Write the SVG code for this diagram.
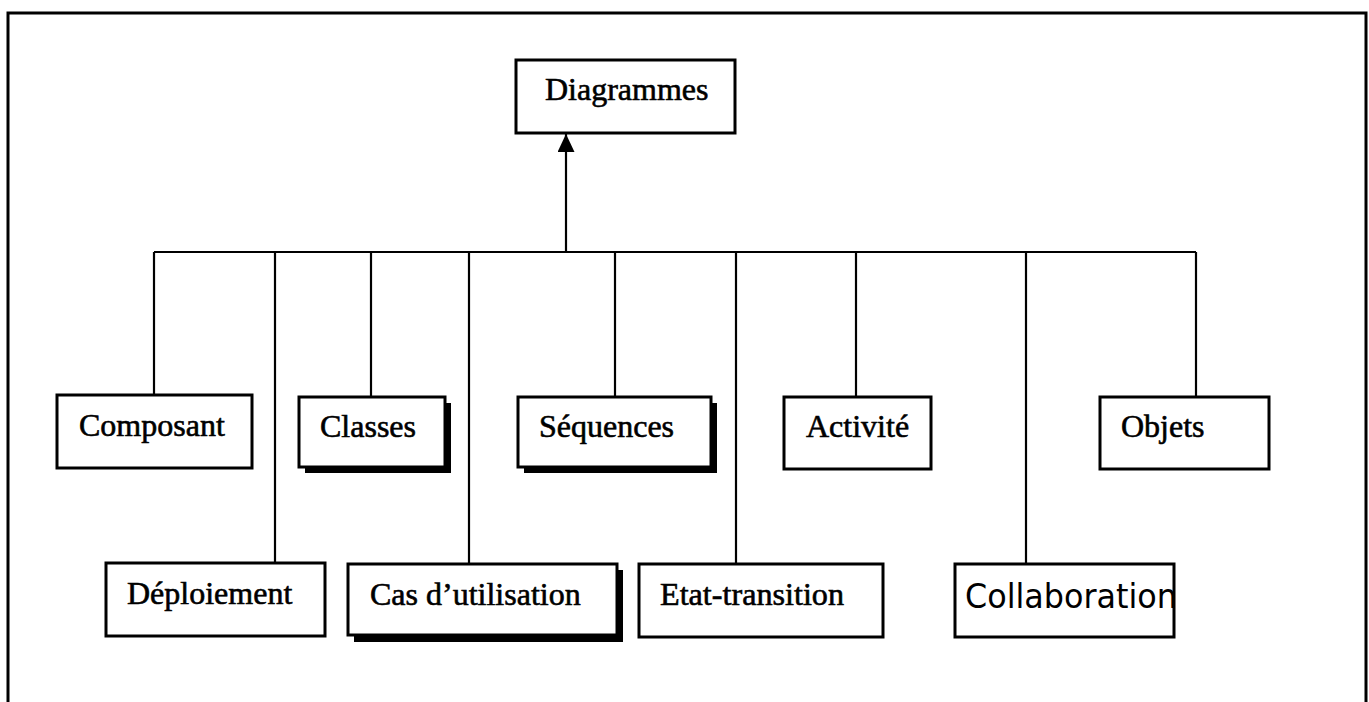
<svg xmlns="http://www.w3.org/2000/svg" width="1369" height="702" viewBox="0 0 1369 702">
  <defs>
    <style>
      .frame { fill: none; stroke: #000; stroke-width: 3; }
      .box { fill: #fff; stroke: #000; stroke-width: 3; }
      .shadow { fill: #000; }
      .link { fill: none; stroke: #000; stroke-width: 2.2; }
      .label { font-family: "Liberation Serif", "Times New Roman", serif; font-size: 32px; fill: #000; stroke: #000; stroke-width: 0.6; }
      .hand { font-family: "DejaVu Sans", sans-serif; font-size: 33px; font-weight: normal; fill: #000; }
    </style>
    <marker id="arrow" viewBox="0 0 18 17" refX="18" refY="8.5" markerWidth="18" markerHeight="17" markerUnits="userSpaceOnUse" orient="auto">
      <path d="M0,0 L18,8.5 L0,17 Z" fill="#000"/>
    </marker>
  </defs>

  <rect width="1369" height="702" fill="#fff"/>

  <!-- outer frame (bottom edge runs off the page) -->
  <rect class="frame" x="8" y="13" width="1358" height="700"/>

  <!-- connectors -->
  <g id="connectors">
    <line class="link" x1="566" y1="252" x2="566" y2="134" marker-end="url(#arrow)"/>
    <line class="link" x1="154" y1="252" x2="1196" y2="252"/>
    <line class="link" x1="154" y1="252" x2="154" y2="395"/>
    <line class="link" x1="275" y1="252" x2="275" y2="563"/>
    <line class="link" x1="371" y1="252" x2="371" y2="397"/>
    <line class="link" x1="469" y1="252" x2="469" y2="564"/>
    <line class="link" x1="615" y1="252" x2="615" y2="397"/>
    <line class="link" x1="736" y1="252" x2="736" y2="564"/>
    <line class="link" x1="856" y1="252" x2="856" y2="397"/>
    <line class="link" x1="1026" y1="252" x2="1026" y2="564"/>
    <line class="link" x1="1196" y1="252" x2="1196" y2="397"/>
  </g>

  <g id="diagrammes">
    <rect class="box" x="516" y="60" width="219" height="73"/>
    <text class="label" x="545" y="100">Diagrammes</text>
  </g>

  <g id="composant">
    <rect class="box" x="57" y="395" width="195" height="73"/>
    <text class="label" x="79" y="436">Composant</text>
  </g>

  <g id="classes">
    <rect class="shadow" x="305" y="403" width="146" height="70"/>
    <rect class="box" x="299" y="397" width="146" height="70"/>
    <text class="label" x="320" y="437">Classes</text>
  </g>

  <g id="sequences">
    <rect class="shadow" x="524" y="403" width="193" height="70"/>
    <rect class="box" x="518" y="397" width="193" height="70"/>
    <text class="label" x="539" y="437">Séquences</text>
  </g>

  <g id="activite">
    <rect class="box" x="784" y="397" width="147" height="72"/>
    <text class="label" x="806" y="437">Activité</text>
  </g>

  <g id="objets">
    <rect class="box" x="1100" y="397" width="169" height="72"/>
    <text class="label" x="1121" y="437">Objets</text>
  </g>

  <g id="deploiement">
    <rect class="box" x="106" y="563" width="219" height="73"/>
    <text class="label" x="127" y="604">Déploiement</text>
  </g>

  <g id="cas-utilisation">
    <rect class="shadow" x="354" y="570" width="269" height="72"/>
    <rect class="box" x="348" y="564" width="269" height="71"/>
    <text class="label" x="370" y="605">Cas d’utilisation</text>
  </g>

  <g id="etat-transition">
    <rect class="box" x="639" y="564" width="244" height="73"/>
    <text class="label" x="660" y="605" textLength="184" lengthAdjust="spacingAndGlyphs">Etat-transition</text>
  </g>

  <g id="collaboration">
    <rect class="box" x="955" y="564" width="219" height="73"/>
    <text class="hand" x="965" y="608" textLength="212" lengthAdjust="spacingAndGlyphs">Collaboration</text>
  </g>
</svg>
